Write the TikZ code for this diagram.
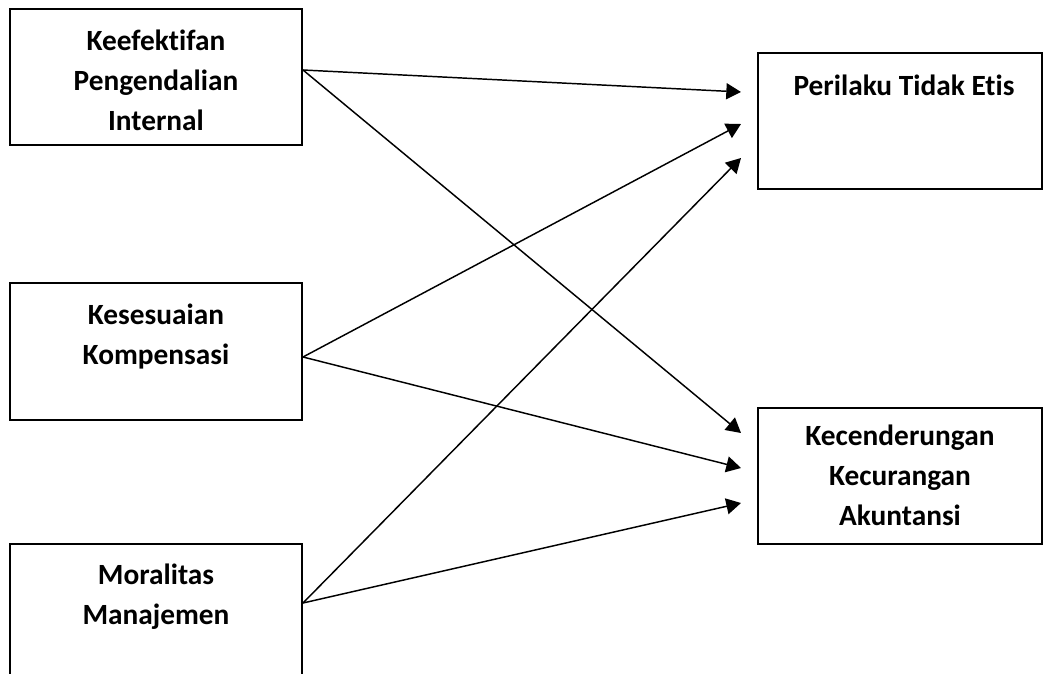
\documentclass[tikz,border=0pt]{standalone}
\usepackage{fontspec}
\setmainfont{Carlito}[Ligatures=NoCommon]
\usetikzlibrary{positioning,calc,arrows.meta}
\begin{document}
\begin{tikzpicture}[x=0.75pt, y=-0.75pt,
    box/.style={rectangle, draw, line width=1.5pt, inner sep=0pt},
    txt/.style={align=center, inner sep=0pt, anchor=north,
      font=\fontsize{22}{30}\selectfont\bfseries},
    arr/.style={line width=1.1pt, -{Triangle[length=11pt,width=12pt]}}]
  \useasboundingbox (0,0) rectangle (1043,674);
  \node (ki) at (156,77) [box, minimum width=219pt, minimum height=102pt] {};
  \node (ks) at (156,351.5) [box, minimum width=219pt, minimum height=103pt] {};
  \node (mm) at (156,619) [box, minimum width=219pt, minimum height=112pt] {};
  \node (pe) at (900,121) [box, minimum width=213pt, minimum height=102pt] {};
  \node (kk) at (900,476) [box, minimum width=213pt, minimum height=102pt] {};
  \node (ki-t) at ($(ki.north)+(0,22)$) [txt] {Keefektifan\\Pengendalian\\Internal};
  \node (ks-t) at ($(ks.north)+(0,22)$) [txt] {Kesesuaian\\Kompensasi};
  \node (mm-t) at ($(mm.north)+(0,20)$) [txt] {Moralitas\\Manajemen};
  \node (pe-t) at ($(pe.north)+(4,23)$) [txt] {Perilaku Tidak Etis};
  \node (kk-t) at ($(kk.north)+(0,18)$) [txt] {Kecenderungan\\Kecurangan\\Akuntansi};
  % ends of the arrows
  \coordinate (ki-o) at ($(ki.east)+(0,-7)$);
  \coordinate (ks-o) at ($(ks.east)+(0,5.5)$);
  \coordinate (mm-o) at ($(mm.east)+(0,-16)$);
  \coordinate (pe-1) at ($(pe.west)+(-16,-29)$);
  \coordinate (pe-2) at ($(pe.west)+(-16,3)$);
  \coordinate (pe-3) at ($(pe.west)+(-16,37)$);
  \coordinate (kk-1) at ($(kk.west)+(-16,-43)$);
  \coordinate (kk-2) at ($(kk.west)+(-16,-8)$);
  \coordinate (kk-3) at ($(kk.west)+(-16,27)$);
  \foreach \source/\dest in {ki-o/pe-1, ki-o/kk-1, ks-o/pe-2, ks-o/kk-2, mm-o/pe-3, mm-o/kk-3}
    \draw[arr] (\source) -- (\dest);
\end{tikzpicture}
\end{document}
